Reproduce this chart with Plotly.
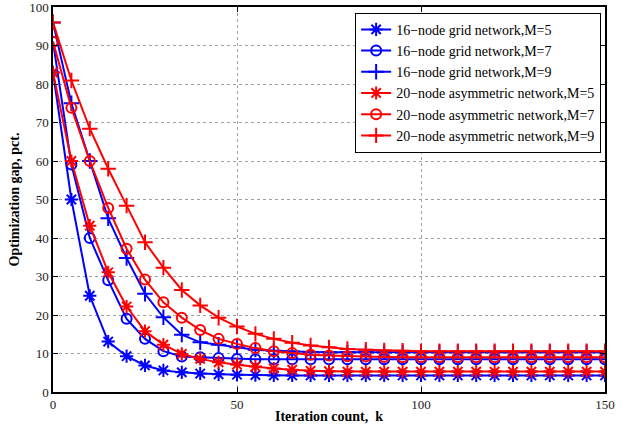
import plotly.graph_objects as go

iterations = list(range(0, 151, 5))

grid_m5 = [83, 50, 25, 13.1, 9.3, 6.9, 5.6, 5.1, 4.8, 4.6, 4.5, 4.4, 4.3, 4.3, 4.3, 4.3,
           4.3, 4.3, 4.3, 4.3, 4.3, 4.3, 4.3, 4.3, 4.3, 4.3, 4.3, 4.3, 4.3, 4.3, 4.3]
grid_m7 = [91, 59.1, 40, 29, 19, 13.8, 10.6, 9.2, 9.0, 8.8, 8.6, 8.5, 8.5, 8.5, 8.5, 8.5,
           8.5, 8.5, 8.5, 8.5, 8.5, 8.5, 8.5, 8.5, 8.5, 8.5, 8.5, 8.5, 8.5, 8.5, 8.5]
grid_m9 = [96, 75, 60, 45.1, 34.8, 25.5, 19.4, 14.9, 12.9, 12.3, 11.6, 11.0, 10.7, 10.5, 10.4, 10.3,
           10.3, 10.3, 10.3, 10.3, 10.3, 10.3, 10.3, 10.3, 10.3, 10.3, 10.3, 10.3, 10.3, 10.3, 10.3]
asym_m5 = [83, 60, 43.2, 31.1, 22.2, 15.8, 12.3, 9.9, 8.6, 7.7, 7.1, 6.6, 6.1, 5.8, 5.5, 5.4,
           5.3, 5.3, 5.3, 5.3, 5.3, 5.3, 5.3, 5.3, 5.3, 5.3, 5.3, 5.3, 5.3, 5.3, 5.3]
asym_m7 = [91, 73.8, 60, 47.8, 37.2, 29.2, 23.3, 19.3, 16.1, 13.8, 12.5, 11.4, 10.6, 10.1, 9.7, 9.5,
           9.3, 9.2, 9.1, 9.0, 9.0, 9.0, 9.0, 9.0, 9.0, 9.0, 9.0, 9.0, 9.0, 9.0, 9.0]
asym_m9 = [96, 80.9, 68.4, 58, 48.4, 38.9, 32.3, 26.5, 22.5, 19.3, 17.0, 15.1, 13.8, 12.8, 12.1, 11.6,
           11.2, 11.0, 10.8, 10.7, 10.6, 10.6, 10.6, 10.6, 10.6, 10.6, 10.6, 10.6, 10.6, 10.6, 10.6]

series = [
    ("16\u2212node grid network,M=5", grid_m5, "blue", "asterisk-open"),
    ("16\u2212node grid network,M=7", grid_m7, "blue", "circle-open"),
    ("16\u2212node grid network,M=9", grid_m9, "blue", "cross-thin-open"),
    ("20\u2212node asymmetric network,M=5", asym_m5, "red", "asterisk-open"),
    ("20\u2212node asymmetric network,M=7", asym_m7, "red", "circle-open"),
    ("20\u2212node asymmetric network,M=9", asym_m9, "red", "cross-thin-open"),
]

fig = go.Figure()
for name, vals, color, sym in series:
    size = 10 if sym == "circle-open" else 11
    fig.add_trace(go.Scatter(
        x=iterations, y=vals, name=name, mode="lines+markers",
        line=dict(color=color, width=2),
        marker=dict(symbol=sym, size=size, color=color, line=dict(color=color, width=2)),
    ))

serif = "Liberation Serif, Times New Roman, serif"
axis_common = dict(
    showline=True, linecolor="black", linewidth=1.5, mirror="ticks",
    ticks="inside", ticklen=5, tickcolor="black",
    showgrid=True, gridcolor="#a0a0a0", griddash="dot", gridwidth=1,
    zeroline=False, automargin=False, ticklabeloverflow="allow",
    tickfont=dict(family=serif, size=13, color="#222"),
)

fig.update_layout(
    width=624, height=426,
    margin=dict(l=53, r=19, t=7, b=34),
    paper_bgcolor="white", plot_bgcolor="white",
    font=dict(family=serif, color="black"),
    legend=dict(
        x=0.993, y=0.985, xanchor="right", yanchor="top",
        bgcolor="white", bordercolor="black", borderwidth=1,
        font=dict(family=serif, size=14, color="black"),
        tracegroupgap=0, itemwidth=30,
    ),
    xaxis=dict(range=[0, 150], dtick=50,
               title=dict(text="<b>Iteration count,  k</b>", font=dict(family=serif, size=14), standoff=0),
               **axis_common),
    yaxis=dict(range=[0, 100], dtick=10,
               title=dict(text="<b>Optimization gap, pct.</b>", font=dict(family=serif, size=14), standoff=6),
               **axis_common),
)

fig.write_html("out.html", config={"displayModeBar": False},
               post_script="document.body.style.margin='0';")
